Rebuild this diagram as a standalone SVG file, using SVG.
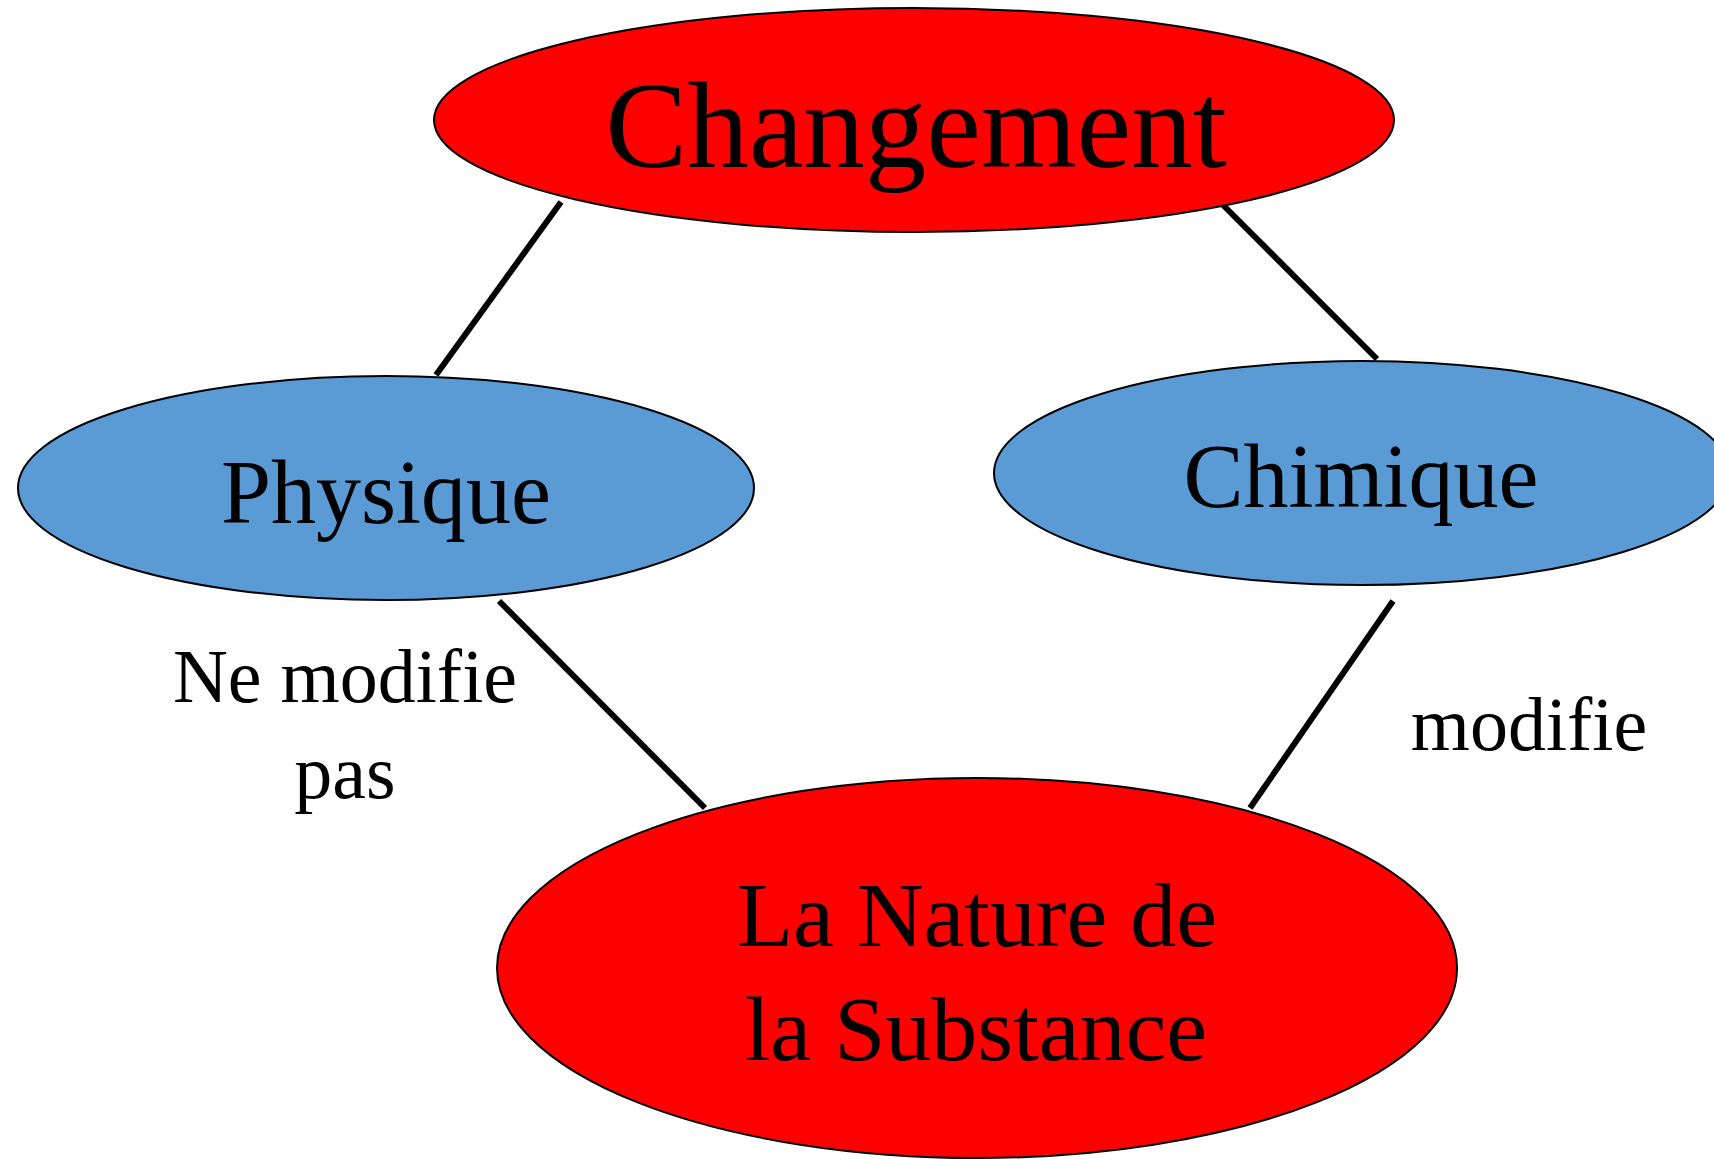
<svg xmlns="http://www.w3.org/2000/svg" width="1714" height="1159" viewBox="0 0 1714 1159">
<style>
.red{fill:#FF0000;stroke:#000;stroke-width:2}
.blue{fill:#5B9BD5;stroke:#000;stroke-width:2}
.t{font-family:"Liberation Serif","Times New Roman",serif;fill:#000;text-anchor:middle}
.c{stroke:#000;stroke-width:6;fill:none}
</style>
<rect width="1714" height="1159" fill="#fff"/>
<g id="connectors">
<line class="c" x1="561" y1="202" x2="436" y2="375"/>
<line class="c" x1="1219" y1="201" x2="1377" y2="359"/>
<line class="c" x1="499" y1="601" x2="705" y2="808"/>
<line class="c" x1="1393" y1="601" x2="1250" y2="808"/>
</g>
<g id="changement">
<ellipse class="red" cx="914" cy="120" rx="480" ry="112"/>
<text class="t" x="916" y="167" font-size="123">Changement</text>
</g>
<g id="physique">
<ellipse class="blue" cx="386" cy="488" rx="368" ry="112"/>
<text class="t" x="386" y="523" font-size="90">Physique</text>
</g>
<g id="chimique">
<ellipse class="blue" cx="1362" cy="473" rx="368" ry="112"/>
<text class="t" x="1361" y="507" font-size="90">Chimique</text>
</g>
<g id="nature">
<ellipse class="red" cx="977" cy="968" rx="480" ry="190"/>
<text class="t" x="977" y="946" font-size="92">La Nature de</text>
<text class="t" x="976" y="1060" font-size="92">la Substance</text>
</g>
<g id="labels">
<text class="t" x="345" y="702" font-size="76">Ne modifie</text>
<text class="t" x="345" y="798" font-size="76">pas</text>
<text class="t" x="1529" y="750" font-size="76">modifie</text>
</g>
</svg>
